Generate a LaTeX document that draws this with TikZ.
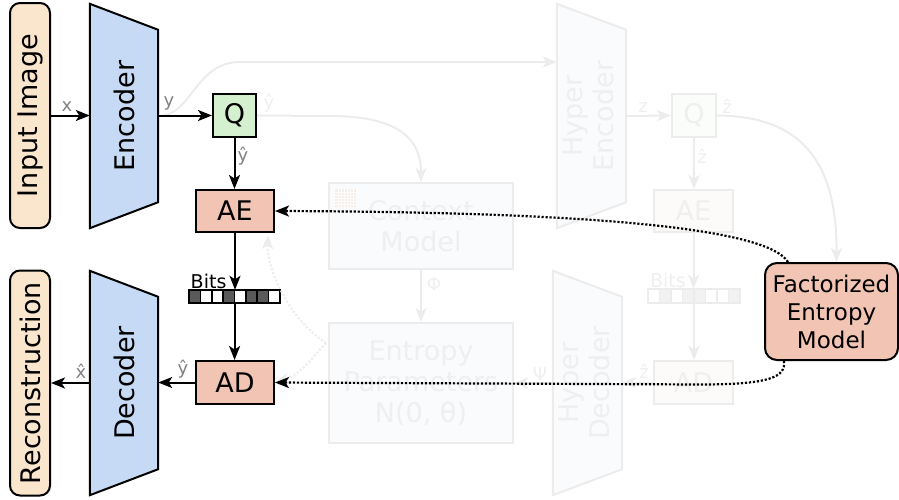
\documentclass[tikz,border=0pt]{standalone}
\usepackage{fontspec}
\setmainfont{DejaVu Sans}
\usetikzlibrary{arrows.meta,calc,backgrounds}
\definecolor{peach}{RGB}{250,230,205}
\definecolor{encblue}{RGB}{198,218,245}
\definecolor{qgreen}{RGB}{213,240,206}
\definecolor{salmon}{RGB}{242,196,179}
\definecolor{bitd}{RGB}{90,90,90}
\definecolor{lblgray}{RGB}{130,130,130}
\definecolor{fln}{RGB}{236,236,236}
\definecolor{ftx}{RGB}{239,239,239}
\definecolor{ffill}{RGB}{250,251,253}
\definecolor{ffillr}{RGB}{253,251,249}
\definecolor{ffillg}{RGB}{250,253,249}
\definecolor{fbit}{RGB}{242,242,242}
\definecolor{fgrid}{RGB}{246,238,232}
\begin{document}
\begin{tikzpicture}[x=1pt,y=-1pt,
  font=\fontsize{27}{31}\selectfont,
  blk/.style={draw, line width=2pt, inner sep=0pt, align=center},
  fblk/.style={draw=fln, line width=2pt, inner sep=0pt, align=center, text=ftx},
  trapnode/.style={inner sep=0pt, minimum width=68pt, minimum height=224pt},
  conn/.style={line width=2pt, -{Stealth[length=14pt,width=11pt,inset=3.5pt]}},
  fconn/.style={conn, color=fln},
  lbl/.style={text=lblgray, font=\fontsize{18}{20}\selectfont, inner sep=0pt, anchor=base},
  flbl/.style={lbl, text=ftx},
  dotc/.style={line width=2.2pt, dash pattern=on 2.2pt off 1.8pt, -{Stealth[length=14pt,width=11pt,inset=3.5pt]}},
  fdot/.style={fconn, dash pattern=on 2pt off 2pt},
  trap/.style={line width=2pt}
]
\useasboundingbox (0,0) rectangle (899,499);

% ---------- faded nodes ----------
\node[fblk, fill=ffill, minimum width=184pt, minimum height=86pt] (ctx) at (421,226) {Context\\Model};
\fill[fgrid] ($(ctx.north west)+(7,7)$) rectangle ++(21,18);
\foreach \k in {1,...,6} {
  \draw[white, line width=0.7pt] ($(ctx.north west)+(7+\k*3,7)$) -- ++(0,18);
}
\foreach \k in {1,...,5} {
  \draw[white, line width=0.7pt] ($(ctx.north west)+(7,7+\k*3)$) -- ++(21,0);
}
\node[fblk, fill=ffill, minimum width=184pt, minimum height=120pt] (ep) at (421,383) {Entropy\\Parameters\\N(0, θ)};
\node[trapnode, minimum width=69pt, text=ftx] (henc) at (591.5,116) {\rotatebox{90}{\begin{tabular}{@{}c@{}}Hyper\\Encoder\end{tabular}}};
\node[trapnode, minimum width=69pt, text=ftx] (hdec) at (587.5,383) {\rotatebox{90}{\begin{tabular}{@{}c@{}}Hyper\\Decoder\end{tabular}}};
\node[fblk, fill=ffillg, minimum width=44pt, minimum height=43pt] (q2) at (694,115.5) {Q};
\node[fblk, fill=ffillr, minimum width=79pt, minimum height=42pt] (ae2) at (693.5,211) {AE};
\node[inner sep=0pt, minimum width=92pt, minimum height=14pt] (bits2) at (694,296) {};
\foreach \c [count=\i from 0] in {white,fbit,white,fbit,fbit,white,white,fbit}
  \draw[line width=1.6pt, draw=fln, fill=\c] ($(bits2.north west)+(\i*11.5,0)$) rectangle ++(11.5,14);
\node[fblk, fill=ffillr, minimum width=79pt, minimum height=43pt] (ad2) at (693.5,382.5) {AD};

% ---------- main nodes ----------
\node[blk, fill=peach, rounded corners=10pt, minimum width=40pt, minimum height=225pt] (inp) at (30,115.5) {\rotatebox{90}{Input Image}};
\node[trapnode] (enc) at (124,116) {\rotatebox{90}{Encoder}};
\node[blk, fill=qgreen, minimum width=43pt, minimum height=43pt] (qy) at (234.5,115.5) {Q};
\node[blk, fill=salmon, minimum width=78pt, minimum height=42pt] (ae) at (235,211) {AE};
\node[inner sep=0pt, minimum width=90.7pt, minimum height=13pt] (bits) at (234.6,296.5) {};
\foreach \c [count=\i from 0] in {bitd,white,white,bitd,white,bitd,bitd,white}
  \draw[line width=1.7pt, fill=\c] ($(bits.north west)+(\i*11.3375,0)$) rectangle ++(11.3375,13);
\node[blk, fill=salmon, minimum width=78pt, minimum height=43pt] (ad) at (235,382.5) {AD};
\node[trapnode] (dec) at (124,383) {\rotatebox{90}{Decoder}};
\node[blk, fill=peach, rounded corners=10pt, minimum width=40pt, minimum height=225pt] (rec) at (30,383) {\rotatebox{90}{Reconstruction}};
\node[blk, fill=salmon, rounded corners=12pt, minimum width=133pt, minimum height=97pt, font=\fontsize{23}{28}\selectfont] (fem) at (831.5,311.5) {Factorized\\Entropy\\Model};

% ---------- trapezoids ----------
\begin{pgfonlayer}{background}
\draw[trap, fill=encblue] (enc.north west) -- ($(enc.north east)+(0,26)$) -- ($(enc.south east)+(0,-26)$) -- (enc.south west) -- cycle;
\draw[trap, fill=encblue] (dec.north west) -- ($(dec.north east)+(0,26)$) -- ($(dec.south east)+(0,-26)$) -- (dec.south west) -- cycle;
\draw[trap, draw=fln, fill=ffill] (henc.north west) -- ($(henc.north east)+(0,26)$) -- ($(henc.south east)+(0,-26)$) -- (henc.south west) -- cycle;
\draw[trap, draw=fln, fill=ffill] (hdec.north west) -- ($(hdec.north east)+(0,26)$) -- ($(hdec.south east)+(0,-26)$) -- (hdec.south west) -- cycle;
\end{pgfonlayer}

% ---------- faded connectors ----------
\coordinate (hin) at ($(henc.west)+(0,-54)$);
\draw[fconn] (enc.east) .. controls (192,116) and (195,62) .. (240,62) -- (hin);
\draw[fconn] (qy.east) -- (330,116) .. controls (400,116) and (421,140) .. (ctx.north);
\node[flbl] at (269,108) {\^y};
\draw[fconn] (ctx.south) -- (ep.north);
\node[flbl] at (434,290) {Φ};
\draw[fconn] (hdec.west) -- (ep.east);
\node[flbl] at (540,380) {Ψ};
\draw[fconn] (henc.east) -- (q2.west);
\node[flbl] at (643,112) {z};
\node[flbl] at (727,113) {\^z};
\draw[fconn] (q2.south) -- (q2.south |- ae2.north);
\node[flbl] at (702,163) {\^z};
\draw[fconn] (q2.east) .. controls (800,116) and (837,160) .. ($(fem.north)+(5,0)$);
\draw[fconn] (ae2.south) -- (ae2.south |- bits2.north);
\node[flbl, anchor=base east, font=\fontsize{19}{21}\selectfont] at ($(bits2.north)+(-8,-1.5)$) {Bits};
\draw[fconn] (bits2.south) -- (bits2.south |- ad2.north);
\draw[fconn] (ad2.west) -- (ad2.west -| hdec.east);
\node[flbl] at (644,378) {\^z};
\coordinate (epo) at ($(ep.west)+(-2,-40)$);
\draw[fdot] (epo) .. controls (290,320) and (267,270) .. ($(ae.south east)+(-7,2)$);
\draw[fdot] (epo) .. controls (312,358) and (300,375) .. (ad.east);

% ---------- main connectors ----------
\draw[conn] (inp.east) -- (inp.east -| enc.west);
\node[lbl] at (67,111.5) {x};
\draw[conn] (enc.east |- qy.west) -- (qy.west);
\node[lbl] at (169,106) {y};
\draw[conn] (qy.south) -- (qy.south |- ae.north);
\node[lbl] at (243,161) {\^y};
\draw[conn] (ae.south) -- (ae.south |- bits.north);
\node[lbl, text=black, anchor=base east, font=\fontsize{19}{21}\selectfont] at ($(bits.north)+(-8,-1.5)$) {Bits};
\draw[conn] (bits.south) -- (bits.south |- ad.north);
\draw[conn] (ad.west) -- (ad.west -| dec.east);
\node[lbl] at (183,374) {\^y};
\draw[conn] (dec.west) -- (dec.west -| rec.east);
\node[lbl] at (81,378) {\^x};

% ---------- dotted entropy-model links ----------
\draw[dotc] ($(fem.north west)+(24,0)$) .. controls (765,225) and (560,212) .. (ae.east);
\draw[dotc] ($(fem.south west)+(20,0)$) .. controls (786,377) and (770,384.5) .. (700,384.5) -- (ad.east);
\end{tikzpicture}
\end{document}
